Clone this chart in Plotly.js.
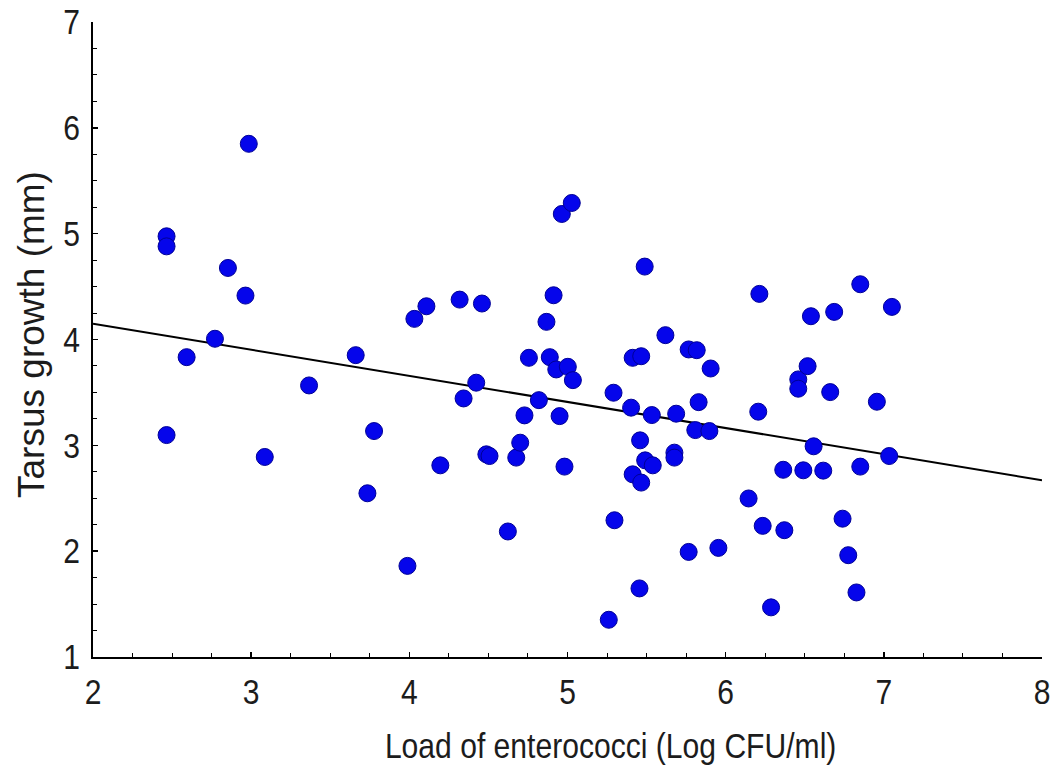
<!DOCTYPE html>
<html>
<head>
<meta charset="utf-8">
<script src="https://cdn.plot.ly/plotly-3.0.1.min.js"></script>
<style>html,body{margin:0;padding:0;background:#fff;}#chart{width:1052px;height:769px;}</style>
</head>
<body>
<div id="chart"></div>
<script>
const loadX = [2.465,2.465,2.465,2.592,2.771,2.853,2.964,2.985,3.086,3.366,3.661,3.735,3.777,3.988,4.032,4.108,4.196,4.318,4.343,4.423,4.459,4.487,4.507,4.623,4.676,4.701,4.728,4.756,4.819,4.867,4.888,4.912,4.929,4.950,4.964,4.981,5.002,5.027,5.034,5.261,5.291,5.297,5.402,5.412,5.412,5.455,5.459,5.466,5.466,5.488,5.491,5.533,5.539,5.619,5.676,5.676,5.687,5.766,5.766,5.808,5.817,5.829,5.897,5.905,5.954,6.145,6.206,6.213,6.234,6.287,6.364,6.371,6.459,6.459,6.491,6.518,6.539,6.556,6.617,6.661,6.686,6.739,6.775,6.827,6.851,6.851,6.956,7.034,7.051];
const tarsusY = [4.975,4.880,3.097,3.833,4.007,4.676,4.415,5.849,2.890,3.566,3.852,2.547,3.135,1.861,4.195,4.314,2.811,4.377,3.443,3.592,4.340,2.915,2.899,2.186,2.884,3.025,3.283,3.827,3.427,4.167,3.833,4.418,3.717,3.276,5.186,2.799,3.742,5.290,3.616,1.352,3.497,2.292,3.356,3.827,2.726,1.648,3.047,3.842,2.648,4.689,2.858,3.286,2.811,4.041,2.931,2.884,3.299,3.906,1.993,3.144,3.899,3.408,3.135,3.726,2.031,2.498,3.318,4.431,2.239,1.469,2.769,2.198,3.623,3.535,2.764,3.748,4.220,2.991,2.761,3.503,4.261,2.307,1.962,1.610,4.522,2.799,3.412,2.899,4.308];
const fitX = [2, 8];
const fitY = [4.15, 2.67];
const xTicks = [2,3,4,5,6,7,8];
const yTicks = [1,2,3,4,5,6,7];
const xTitle = 'Load of enterococci (Log CFU/ml)';
const yTitle = 'Tarsus growth (mm)';

const FONT = '"Liberation Sans", Arial, sans-serif';
const INK = '#1c1c1c';

const traces = [
  {x: fitX, y: fitY, type: 'scatter', mode: 'lines',
   line: {color: '#000000', width: 2}, hoverinfo: 'skip', showlegend: false},
  {x: loadX, y: tarsusY, type: 'scatter', mode: 'markers',
   marker: {color: 'rgb(5,5,235)', size: 17, line: {color: 'rgb(0,0,150)', width: 1}},
   showlegend: false}
];

const layout = {
  width: 1052, height: 769,
  margin: {l: 93, r: 10, t: 22, b: 112},
  paper_bgcolor: '#ffffff', plot_bgcolor: '#ffffff',
  font: {family: FONT, color: INK, size: 30},
  xaxis: {
    range: [2, 8], tickvals: xTicks, ticktext: xTicks.map(String),
    showgrid: false, zeroline: false, showline: true, linecolor: '#000', linewidth: 2,
    ticks: 'inside', ticklen: 5, tickwidth: 1.5, tickcolor: '#000',
    minor: {dtick: 0.25, ticks: 'inside', ticklen: 4, tickwidth: 1, tickcolor: '#000', showgrid: false},
    tickfont: {family: FONT, size: 35, color: INK},
    ticklabelstandoff: 3
  },
  yaxis: {
    range: [1, 7], tickvals: yTicks, ticktext: yTicks.map(String),
    showgrid: false, zeroline: false, showline: true, linecolor: '#000', linewidth: 2,
    ticks: 'inside', ticklen: 5, tickwidth: 1.5, tickcolor: '#000',
    minor: {dtick: 0.25, ticks: 'inside', ticklen: 4, tickwidth: 1, tickcolor: '#000', showgrid: false},
    tickfont: {family: FONT, size: 35, color: INK},
    ticklabelstandoff: 4
  },
  annotations: [
    {text: xTitle, xref: 'paper', yref: 'paper', x: 0.545, y: -0.140,
     xanchor: 'center', yanchor: 'middle', showarrow: false,
     font: {family: FONT, size: 35, color: INK}},
    {text: yTitle, xref: 'paper', yref: 'paper', x: -0.0643, y: 0.5087,
     xanchor: 'center', yanchor: 'middle', showarrow: false, textangle: -90,
     font: {family: FONT, size: 37, color: INK}}
  ]
};

function condense(sel, s) {
  document.querySelectorAll(sel).forEach(function (t) {
    const b = t.getBBox();
    const anchor = t.getAttribute('text-anchor') || 'start';
    let ax = b.x + b.width / 2;
    if (anchor === 'end') ax = b.x + b.width;
    else if (anchor === 'start') ax = b.x;
    const old = t.getAttribute('transform') || '';
    t.setAttribute('transform', old + ' translate(' + ax + ',0) scale(' + s + ',1) translate(' + (-ax) + ',0)');
  });
}

Plotly.newPlot('chart', traces, layout, {displayModeBar: false, staticPlot: true}).then(function () {
  condense('.xtick text, .ytick text', 0.86);
  const ann = document.querySelectorAll('.annotation-text');
  if (ann[0]) { ann[0].classList.add('xt'); }
  condense('.annotation-text.xt', 0.86);
});
</script>
</body>
</html>
